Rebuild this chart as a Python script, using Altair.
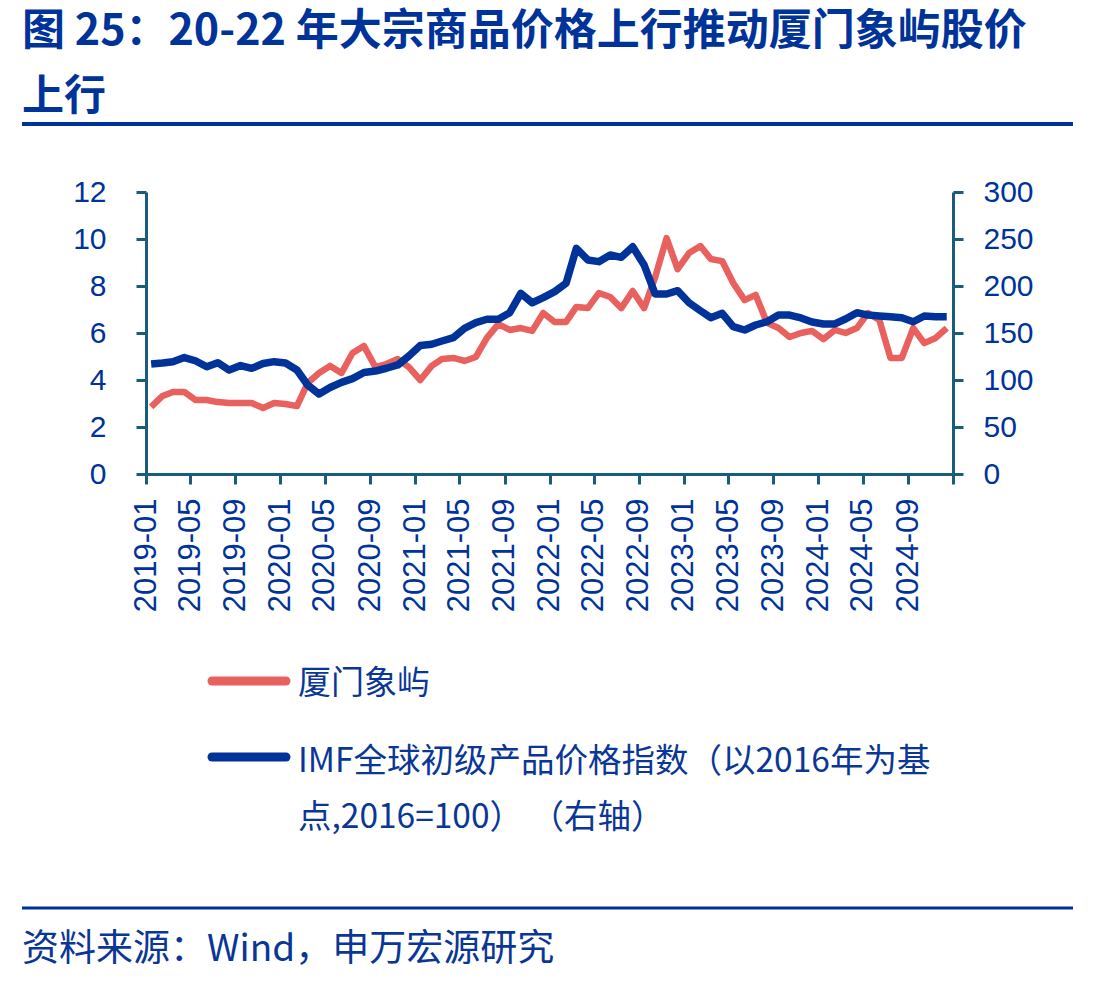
import altair as alt
import pandas as pd

# ---- data (monthly, 2019-01 .. 2024-12) ----
months = [f"{y}/{m:02d}/15" for y in range(2019, 2025) for m in range(1, 13)]

xmxy = [2.86, 3.32, 3.49, 3.49, 3.15, 3.15, 3.06, 3.02, 3.02, 3.02, 2.81, 3.02,
        2.98, 2.89, 3.87, 4.30, 4.60, 4.30, 5.15, 5.45, 4.55, 4.68, 4.89, 4.55,
        4.00, 4.60, 4.89, 4.94, 4.81, 4.98, 5.79, 6.38, 6.13, 6.21, 6.09, 6.85,
        6.47, 6.47, 7.11, 7.06, 7.70, 7.53, 7.06, 7.79, 7.06, 8.38, 10.04, 8.72,
        9.40, 9.70, 9.15, 9.06, 8.13, 7.40, 7.62, 6.43, 6.21, 5.83, 6.00, 6.09,
        5.74, 6.13, 6.00, 6.21, 6.85, 6.55, 4.94, 4.94, 6.21, 5.57, 5.79, 6.21]

imf = [117.0, 118.1, 119.5, 123.9, 120.5, 114.1, 118.4, 110.6, 115.4, 112.4, 117.6, 119.5,
       118.1, 110.6, 94.7, 85.1, 92.0, 97.5, 101.5, 108.0, 109.5, 112.5, 116.0, 125.5,
       136.6, 138.0, 141.5, 145.0, 155.0, 161.0, 164.6, 164.6, 171.6, 192.2, 182.2, 187.6,
       194.0, 202.9, 240.1, 227.7, 225.9, 233.0, 230.5, 241.8, 222.3, 191.5, 191.5, 195.0,
       182.2, 173.7, 166.3, 171.0, 156.7, 153.2, 158.5, 162.0, 169.1, 169.1, 166.0, 161.7,
       159.6, 159.6, 164.9, 171.6, 169.1, 168.1, 167.3, 166.3, 162.0, 168.1, 167.3, 167.3]

tick_dates = [(y, m) for y in range(2019, 2026) for m in (1, 5, 9)][:19]

title_lines = ["图 25：20-22 年大宗商品价格上行推动厦门象屿股价", "上行"]
legend_red = "厦门象屿"
legend_blue = ["IMF全球初级产品价格指数（以2016年为基", "点,2016=100） （右轴）"]
source = "资料来源：Wind，申万宏源研究"

df = pd.DataFrame({"date": months, "xmxy": xmxy, "imf": imf})

RED = "#E8615F"
BLUE = "#003399"
AXIS = "#1B5C7B"
TXT = "#0A3795"
NUM_FONT = "Liberation Sans"
CJK = "Noto Sans CJK SC"

W, H = 807, 282

xscale = alt.Scale(domain=[alt.DateTime(year=2019, month=1, date=1),
                           alt.DateTime(year=2025, month=1, date=1)])
xaxis = alt.Axis(
    values=[alt.DateTime(year=y, month=m, date=1) for (y, m) in tick_dates],
    labelExpr="year(datum.value) >= 2025 ? '' : timeFormat(datum.value, '%Y-%m')",
    labelAngle=270, labelAlign="right", labelBaseline="middle",
    labelFont=NUM_FONT, labelFontSize=31, labelColor=BLUE, labelPadding=14,
    tickSize=10, tickWidth=3, tickColor=AXIS, domainColor=AXIS, domainWidth=3,
    grid=False, title=None, labelOverlap=False, labelFlush=False,
)

base = alt.Chart(df)

red_line = base.mark_line(color=RED, strokeWidth=6.5, strokeJoin="round").encode(
    x=alt.X("date:T", scale=xscale, axis=xaxis),
    y=alt.Y("xmxy:Q", scale=alt.Scale(domain=[0, 12]),
            axis=alt.Axis(values=list(range(0, 13, 2)), orient="left",
                          labelFont=NUM_FONT, labelFontSize=30, labelColor=BLUE,
                          labelPadding=30, tickSize=10, tickWidth=3, tickColor=AXIS,
                          domainColor=AXIS, domainWidth=3, grid=False, title=None)),
)

blue_line = base.mark_line(color=BLUE, strokeWidth=7.5, strokeJoin="round").encode(
    x=alt.X("date:T", scale=xscale, axis=xaxis),
    y=alt.Y("imf:Q", scale=alt.Scale(domain=[0, 300]),
            axis=alt.Axis(values=list(range(0, 301, 50)), orient="right",
                          labelFont=NUM_FONT, labelFontSize=30, labelColor=BLUE,
                          labelPadding=20, tickSize=10, tickWidth=3, tickColor=AXIS,
                          domainColor=AXIS, domainWidth=3, grid=False, title=None)),
)

one = alt.Data(values=[{"k": 1}])


def text_layer(txt, x, y, size, color=TXT, font=CJK, weight="normal"):
    return alt.Chart(one).mark_text(
        align="left", baseline="middle", font=font, fontSize=size,
        fontWeight=weight, color=color,
    ).encode(x=alt.value(x), y=alt.value(y), text=alt.value(txt))


def rule_layer(x1, x2, y, width, color, cap="butt"):
    return alt.Chart(one).mark_rule(color=color, strokeWidth=width, strokeCap=cap).encode(
        x=alt.value(x1), x2=alt.value(x2), y=alt.value(y))


deco = [
    text_layer(title_lines[0], -124, -160, 43, color=BLUE, weight="bold"),
    text_layer(title_lines[1], -124, -95, 42, color=BLUE, weight="bold"),
    rule_layer(-124, 927, -68, 4, BLUE),
    rule_layer(66, 140, 489, 9, RED, "round"),
    text_layer(legend_red, 152, 492, 33),
    rule_layer(66, 140, 565, 9, BLUE, "round"),
    text_layer(legend_blue[0], 152, 570, 33.5),
    text_layer(legend_blue[1], 152, 626, 33.5),
    rule_layer(-124, 927, 716, 3, BLUE),
    text_layer(source, -124, 758, 37),
]

chart = alt.layer(red_line, blue_line, *deco).resolve_scale(y="independent").properties(
    width=W, height=H,
    padding={"left": 146, "top": 192, "right": 167, "bottom": 510},
    autosize=alt.AutoSizeParams(type="none"),
    background="white",
).configure_view(stroke=None)

chart.save("out.html", embed_options={"renderer": "svg", "actions": False})
